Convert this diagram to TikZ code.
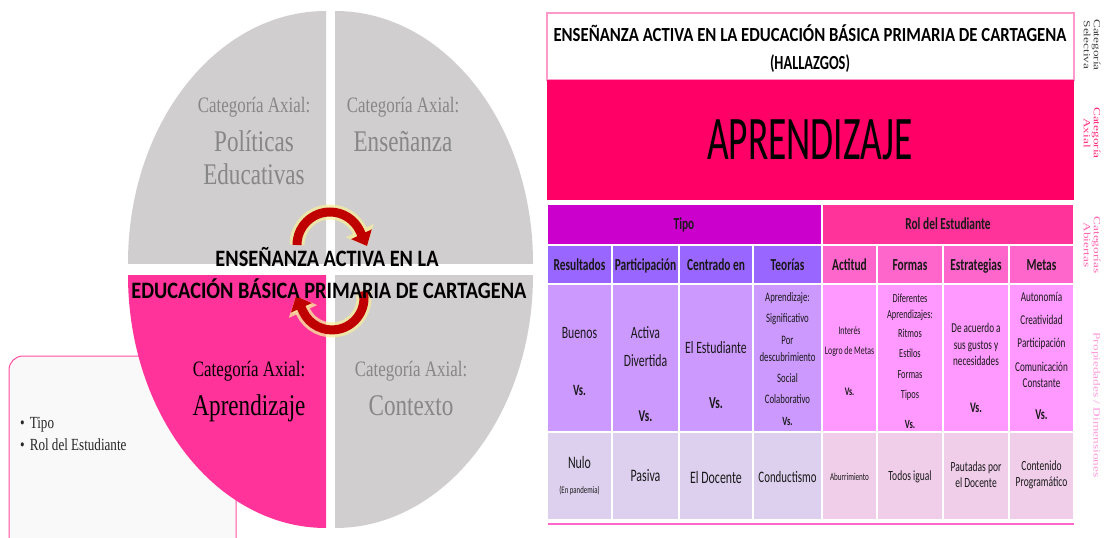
\documentclass[tikz,border=0pt]{standalone}
\usepackage{fontspec}
\usepackage{graphicx}
\usetikzlibrary{arrows.meta}
\newfontfamily\cfont[FakeStretch=0.68]{Carlito}
\newfontfamily\cnorm{Carlito}
\newfontfamily\tfont[FakeStretch=0.77]{Liberation Serif}
\newfontfamily\rfont[FakeStretch=1.4]{Liberation Serif}
\definecolor{qgray}{HTML}{D0CECE}
\definecolor{qpink}{HTML}{FF3399}
\definecolor{qtext}{HTML}{878787}
\definecolor{boxfill}{HTML}{F9F9F9}
\definecolor{boxline}{HTML}{FF4FA3}
\definecolor{arrred}{HTML}{C00000}
\definecolor{glow}{HTML}{F6EE9E}
\definecolor{tline}{HTML}{FF99CC}
\definecolor{aprend}{HTML}{FF0066}
\definecolor{tipo}{HTML}{CC00CC}
\definecolor{rol}{HTML}{FF3399}
\definecolor{subL}{HTML}{9966FF}
\definecolor{subR}{HTML}{FF66CC}
\definecolor{bodyL}{HTML}{CC99FF}
\definecolor{bodyR}{HTML}{FF99FF}
\definecolor{lowL}{HTML}{DDD0EE}
\definecolor{lowR}{HTML}{F0CEEA}
\definecolor{labA}{HTML}{444444}
\definecolor{labB}{HTML}{FF2D80}
\definecolor{labC}{HTML}{FF66B3}
\definecolor{labD}{HTML}{FF99DD}
\tikzset{
  cell/.style={draw=white, line width=1.5pt},
  ct/.style={font={\cfont\fontsize{#1}{#1}\selectfont}, inner sep=0pt, anchor=base, yshift={-0.32*#1pt}, text=black!90},
  cb/.style={font={\cfont\bfseries\fontsize{#1}{#1}\selectfont}, inner sep=0pt, anchor=base, yshift={-0.32*#1pt}, text=black!90},
  ttl/.style={font={\cnorm\bfseries\fontsize{#1}{#1}\selectfont}, inner sep=0pt, anchor=base, yshift={-0.32*#1pt}, text=black},
  qsmall/.style={font={\tfont\fontsize{22}{22}\selectfont}, inner sep=0pt, anchor=base, yshift=-7pt},
  qbig/.style={font={\tfont\fontsize{30}{30}\selectfont}, inner sep=0pt, anchor=base, yshift=-9.6pt},
  bul/.style={font={\tfont\fontsize{17}{17}\selectfont}, inner sep=0pt, anchor=base west, yshift=-5.4pt, text=black!85},
  side/.style={font={\rfont\fontsize{9.5}{10}\selectfont}, inner sep=0pt, rotate=-90, align=center},
  glowline/.style={draw=glow, line width=15pt, opacity=0.75, -{Triangle[length=17pt,width=30pt]}},
  redline/.style={draw=arrred, line width=9pt, -{Triangle[length=13pt,width=22pt]}},
}
\begin{document}
\begin{tikzpicture}[x=1pt,y=-1pt]
\clip (0,0) rectangle (1109,538);
\fill[white] (0,0) rectangle (1109,538);
% ---------------- left: quadrants ----------------
\begin{scope}
  \clip (128,11) rectangle (326,263);
  \fill[qgray] (326,263) ellipse [x radius=198, y radius=252];
\end{scope}
\begin{scope}
  \clip (335,11) rectangle (533,263);
  \fill[qgray] (335,263) ellipse [x radius=198, y radius=252];
\end{scope}
\begin{scope}
  \clip (335,275) rectangle (533,528);
  \fill[qgray] (335,275) ellipse [x radius=198, y radius=253];
\end{scope}
% rounded text box (behind pink quadrant)
\draw[boxline, fill=boxfill, line width=1pt, rounded corners=14pt] (9,356) rectangle (236,570);
\node[bul] (b1) at (20,423) {•\hspace{5pt}Tipo};
\node[bul] (b2) at (20,445) {•\hspace{5pt}Rol del Estudiante};
\begin{scope}
  \clip (128,275) rectangle (326,528);
  \fill[qpink] (326,275) ellipse [x radius=198, y radius=253];
\end{scope}
% quadrant texts
\node[qsmall, text=qtext] (q1a) at (254,105) {Categoría Axial:};
\node[qbig, text=qtext]   (q1b) at (254,142) {Políticas};
\node[qbig, text=qtext]   (q1c) at (254,175) {Educativas};
\node[qsmall, text=qtext] (q2a) at (403,105) {Categoría Axial:};
\node[qbig, text=qtext]   (q2b) at (403,142) {Enseñanza};
\node[qsmall, text=black] (q3a) at (249,369) {Categoría Axial:};
\node[qbig, text=black]   (q3b) at (249,406) {Aprendizaje};
\node[qsmall, text=qtext] (q4a) at (411,369) {Categoría Axial:};
\node[qbig, text=qtext]   (q4b) at (411,406) {Contexto};
% circular arrows
\path[glowline] (297,245) arc [start angle=180, end angle=335, radius=33] -- (367,246);
\path[redline]  (297,245) arc [start angle=180, end angle=335, radius=33] -- (367,246);
\path[glowline] (363.3,291.3) arc [start angle=-12, end angle=155, radius=32] -- (296,296);
\path[redline]  (363.3,291.3) arc [start angle=-12, end angle=155, radius=32] -- (296,296);
% central title
\node[ttl=23.5] (lt1) at (327,259) {\resizebox{223pt}{\height}{ENSEÑANZA ACTIVA EN LA}};
\node[ttl=23.5] (lt2) at (329,291) {\resizebox{395pt}{\height}{EDUCACIÓN BÁSICA PRIMARIA DE CARTAGENA}};
% ---------------- right: table ----------------
\draw[tline, line width=1.2pt, fill=white] (547,13) rectangle (1074,80);
\node[ttl=20] (rt1) at (810,35) {\resizebox{513pt}{\height}{ENSEÑANZA ACTIVA EN LA EDUCACIÓN BÁSICA PRIMARIA DE CARTAGENA}};
\node[ttl=20] (rt2) at (810,63) {\resizebox{80pt}{\height}{(HALLAZGOS)}};
\fill[aprend] (547,80) rectangle (1074,200);
\node[font={\cnorm\fontsize{62}{62}\selectfont}, inner sep=0pt, anchor=base, yshift=-20pt, text=black] (apr) at (810,139) {\resizebox{206pt}{\height}{APRENDIZAJE}};
% headers
\path[cell, fill=tipo] (547,204) rectangle (822,245);
\path[cell, fill=rol]  (822,204) rectangle (1074,245);
\node[cb=16.8] (h1) at (684,224) {Tipo};
\node[cb=16.8] (h2) at (948,224) {Rol del Estudiante};
% sub headers and body cells
\foreach \a/\b in {547/612,612/679,679/753,753/822}{
  \path[cell, fill=subL] (\a,245) rectangle (\b,284);
  \path[cell, fill=bodyL] (\a,284) rectangle (\b,432);
  \path[cell, fill=lowL] (\a,432) rectangle (\b,520);
}
\foreach \a/\b in {822/877,877/943,943/1009,1009/1074}{
  \path[cell, fill=subR] (\a,245) rectangle (\b,284);
  \path[cell, fill=bodyR] (\a,284) rectangle (\b,432);
  \path[cell, fill=lowR] (\a,432) rectangle (\b,520);
}
\draw[subR, line width=2pt] (548,524) -- (1074,524);
\node[cb=16.8] (s1) at (579.5,265) {Resultados};
\node[cb=16.8] (s2) at (645.5,265) {Participación};
\node[cb=16.8] (s3) at (716,265) {Centrado en};
\node[cb=16.8] (s4) at (787.5,265) {Teorías};
\node[cb=16.8] (s5) at (849.5,265) {Actitud};
\node[cb=16.8] (s6) at (910,265) {Formas};
\node[cb=16.8] (s7) at (976,265) {Estrategias};
\node[cb=16.8] (s8) at (1041.5,265) {Metas};
% body row 1
\node[ct=17.3] (r1a) at (579.5,333) {Buenos};
\node[cb=15.7] (r1b) at (579.5,390) {Vs.};
\node[ct=17.3] (r2a) at (645.5,333) {Activa};
\node[ct=17.3] (r2b) at (645.5,361) {Divertida};
\node[cb=16.5] (r2c) at (645.5,416) {Vs.};
\node[ct=17.3] (r3a) at (716,348) {El Estudiante};
\node[cb=16.8] (r3b) at (716,403) {Vs.};
\node[ct=12.9] (r4a) at (787.5,297) {Aprendizaje:};
\node[ct=12.9] (r4b) at (787.5,318) {Significativo};
\node[ct=12.9] (r4c) at (787.5,340) {Por};
\node[ct=12.9] (r4d) at (787.5,357) {descubrimiento};
\node[ct=12.9] (r4e) at (787.5,378) {Social};
\node[ct=12.9] (r4f) at (787.5,399) {Colaborativo};
\node[cb=12.5] (r4g) at (787.5,421) {Vs.};
\node[ct=11.5] (r5a) at (849.5,331) {Interés};
\node[ct=11.5] (r5b) at (849.5,351) {Logro de Metas};
\node[cb=11.5] (r5c) at (849.5,392) {Vs.};
\node[ct=12.3] (r6a) at (910,299) {Diferentes};
\node[ct=12.3] (r6b) at (910,315) {Aprendizajes:};
\node[ct=12.3] (r6c) at (910,334) {Ritmos};
\node[ct=12.3] (r6d) at (910,354) {Estilos};
\node[ct=12.3] (r6e) at (910,375) {Formas};
\node[ct=12.3] (r6f) at (910,395) {Tipos};
\node[cb=12.5] (r6g) at (910,424) {Vs.};
\node[ct=13.5] (r7a) at (976,328) {De acuerdo a};
\node[ct=13.5] (r7b) at (976,345) {sus gustos y};
\node[ct=13.5] (r7c) at (976,361) {necesidades};
\node[cb=14.5] (r7d) at (976,408) {Vs.};
\node[ct=13.5] (r8a) at (1041.5,297) {Autonomía};
\node[ct=13.5] (r8b) at (1041.5,320) {Creatividad};
\node[ct=13.5] (r8c) at (1041.5,343) {Participación};
\node[ct=13.5] (r8d) at (1041.5,367) {Comunicación};
\node[ct=13.5] (r8e) at (1041.5,383) {Constante};
\node[cb=15] (r8f) at (1041.5,415) {Vs.};
% body row 2
\node[ct=17.5] (l1a) at (579.5,463) {Nulo};
\node[ct=10] (l1b) at (579.5,490) {(En pandemia)};
\node[ct=17.5] (l2) at (645.5,476) {Pasiva};
\node[ct=17.5] (l3) at (716,478) {El Docente};
\node[ct=16] (l4) at (787.5,477) {Conductismo};
\node[ct=10.5] (l5) at (849.5,477) {Aburrimiento};
\node[ct=14] (l6) at (910,476) {Todos igual};
\node[ct=14] (l7a) at (976,467) {Pautadas por};
\node[ct=14] (l7b) at (976,483) {el Docente};
\node[ct=14] (l8a) at (1041.5,466) {Contenido};
\node[ct=14] (l8b) at (1041.5,482) {Programático};
% side labels
\node[side, text=labA] (sd1) at (1092,45) {Categoría\\Selectiva};
\node[side, text=labB] (sd2) at (1092,133) {Categoría\\Axial};
\node[side, text=labC] (sd3) at (1092,245) {Categorías\\Abiertas};
\node[side, text=labD] (sd4) at (1096,405) {Propiedades / Dimensiones};
\end{tikzpicture}
\end{document}
